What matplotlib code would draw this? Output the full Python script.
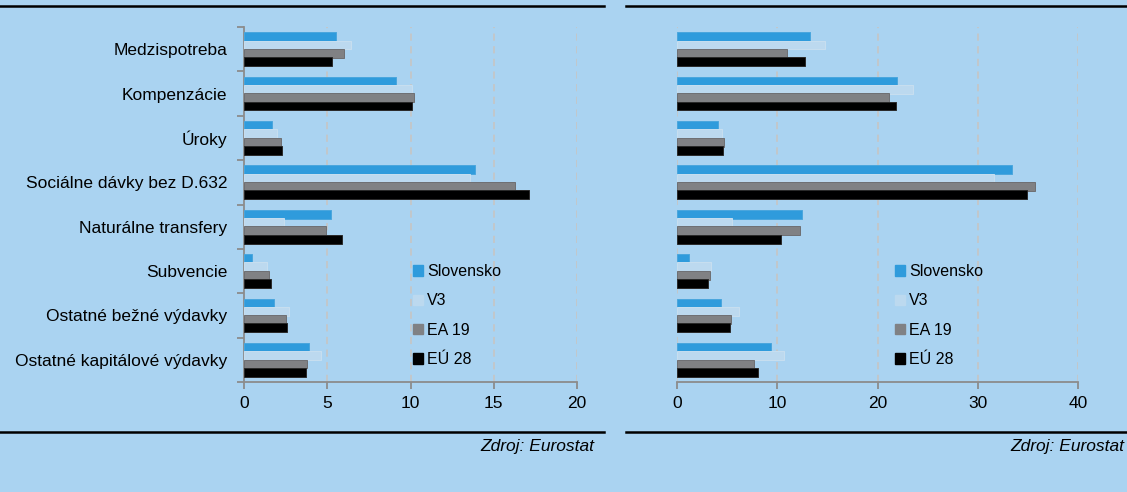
import numpy as np
import matplotlib.pyplot as plt
from matplotlib.patches import Patch

plt.rcParams['font.family'] = ['Liberation Sans', 'DejaVu Sans']

# data
categories = ['Medzispotreba', 'Kompenzácie', 'Úroky', 'Sociálne dávky bez D.632',
              'Naturálne transfery', 'Subvencie', 'Ostatné bežné výdavky',
              'Ostatné kapitálové výdavky']
series = ['Slovensko', 'V3', 'EA 19', 'EÚ 28']

left_sk = [5.5, 9.1, 1.7, 13.9, 5.2, 0.5, 1.8, 3.9]
left_v3 = [6.4, 10.1, 2.0, 13.6, 2.4, 1.4, 2.7, 4.6]
left_ea = [6.0, 10.2, 2.2, 16.3, 4.9, 1.5, 2.5, 3.8]
left_eu = [5.3, 10.1, 2.3, 17.1, 5.9, 1.6, 2.6, 3.7]

right_sk = [13.3, 21.9, 4.1, 33.4, 12.5, 1.2, 4.4, 9.4]
right_v3 = [14.8, 23.5, 4.5, 31.6, 5.5, 3.4, 6.2, 10.7]
right_ea = [11.0, 21.1, 4.7, 35.7, 12.3, 3.3, 5.4, 7.7]
right_eu = [12.8, 21.8, 4.6, 34.9, 10.4, 3.1, 5.3, 8.1]

colors = ['#2F9BDC', '#BCD9EF', '#808184', '#000000']
edges = ['#4AA6DD', '#C8DFF0', '#6E6F72', '#2A2A2A']
bg = '#AAD3F1'
grid_c = '#C4C6C8'

W, H = 1127, 492
fig = plt.figure(figsize=(W / 100, H / 100), dpi=100, facecolor=bg)


def px_axes(x0, x1, y0, y1):
    return fig.add_axes([x0 / W, 1 - y1 / H, (x1 - x0) / W, (y1 - y0) / H])


def draw(ax, vals, xmax, step, spine_left):
    ax.set_facecolor(bg)
    y = np.arange(len(categories))
    offs = [-0.28, -0.093, 0.093, 0.28]
    for v, o, c, e in zip(vals, offs, colors, edges):
        ax.barh(y + o, v, height=0.2, color=c, edgecolor=e, linewidth=0.7, zorder=3)
    ax.set_ylim(len(categories) - 0.5, -0.5)
    ax.set_xlim(0, xmax)
    ticks = np.arange(0, xmax + 0.1, step)
    ax.set_xticks(ticks)
    ax.set_xticklabels([f'{t:g}' for t in ticks])
    for t in ticks[1:] if spine_left else ticks:
        ax.axvline(t, color=grid_c, lw=1.3, ls=(0, (4, 3)), zorder=1)
    for s in ['top', 'right']:
        ax.spines[s].set_visible(False)
    ax.spines['bottom'].set_color('#8C8C8C')
    ax.spines['bottom'].set_linewidth(1.3)
    ax.tick_params(axis='x', colors='#8C8C8C', labelcolor='black', length=5,
                   width=1.3, labelsize=12.5, pad=5)
    if spine_left:
        ax.spines['left'].set_color('#8C8C8C')
        ax.spines['left'].set_linewidth(1.3)
        ax.set_yticks(y)
        ax.set_yticklabels(categories, fontsize=12.5)
        ax.set_yticks(np.arange(-0.5, len(categories)), minor=True)
        ax.tick_params(axis='y', which='major', length=0, pad=12)
        ax.tick_params(axis='y', which='minor', length=5, width=1.3, colors='#8C8C8C')
    else:
        ax.spines['left'].set_visible(False)
        ax.set_yticks([])


ax1 = px_axes(244, 577, 27, 382)
draw(ax1, [left_sk, left_v3, left_ea, left_eu], 20, 5, True)
ax2 = px_axes(677, 1078, 27, 382)
draw(ax2, [right_sk, right_v3, right_ea, right_eu], 40, 10, False)

handles = [Patch(facecolor=c, edgecolor=c) for c in colors]
for ax, lx in [(ax1, 413), (ax2, 895)]:
    ax.legend(handles, series, loc='upper left', bbox_to_anchor=(lx / W, 1 - 264 / H),
              bbox_transform=fig.transFigure, frameon=False, fontsize=11.5,
              handlelength=0.62, handleheight=0.62, handletextpad=0.25,
              labelspacing=0.9, borderpad=0, borderaxespad=0)

# frame lines and source notes
for x0, x1 in [(0, 604), (626, W)]:
    for yy in [6, 432]:
        fig.add_artist(plt.Line2D([x0 / W, x1 / W], [1 - yy / H, 1 - yy / H],
                                  color='black', lw=1.8, transform=fig.transFigure))
fig.text(594 / W, 1 - 446 / H, 'Zdroj: Eurostat', ha='right', va='center',
         fontsize=12.5, style='italic')
fig.text(1124 / W, 1 - 446 / H, 'Zdroj: Eurostat', ha='right', va='center',
         fontsize=12.5, style='italic')

fig.savefig('out.png', dpi=100, facecolor=bg)
